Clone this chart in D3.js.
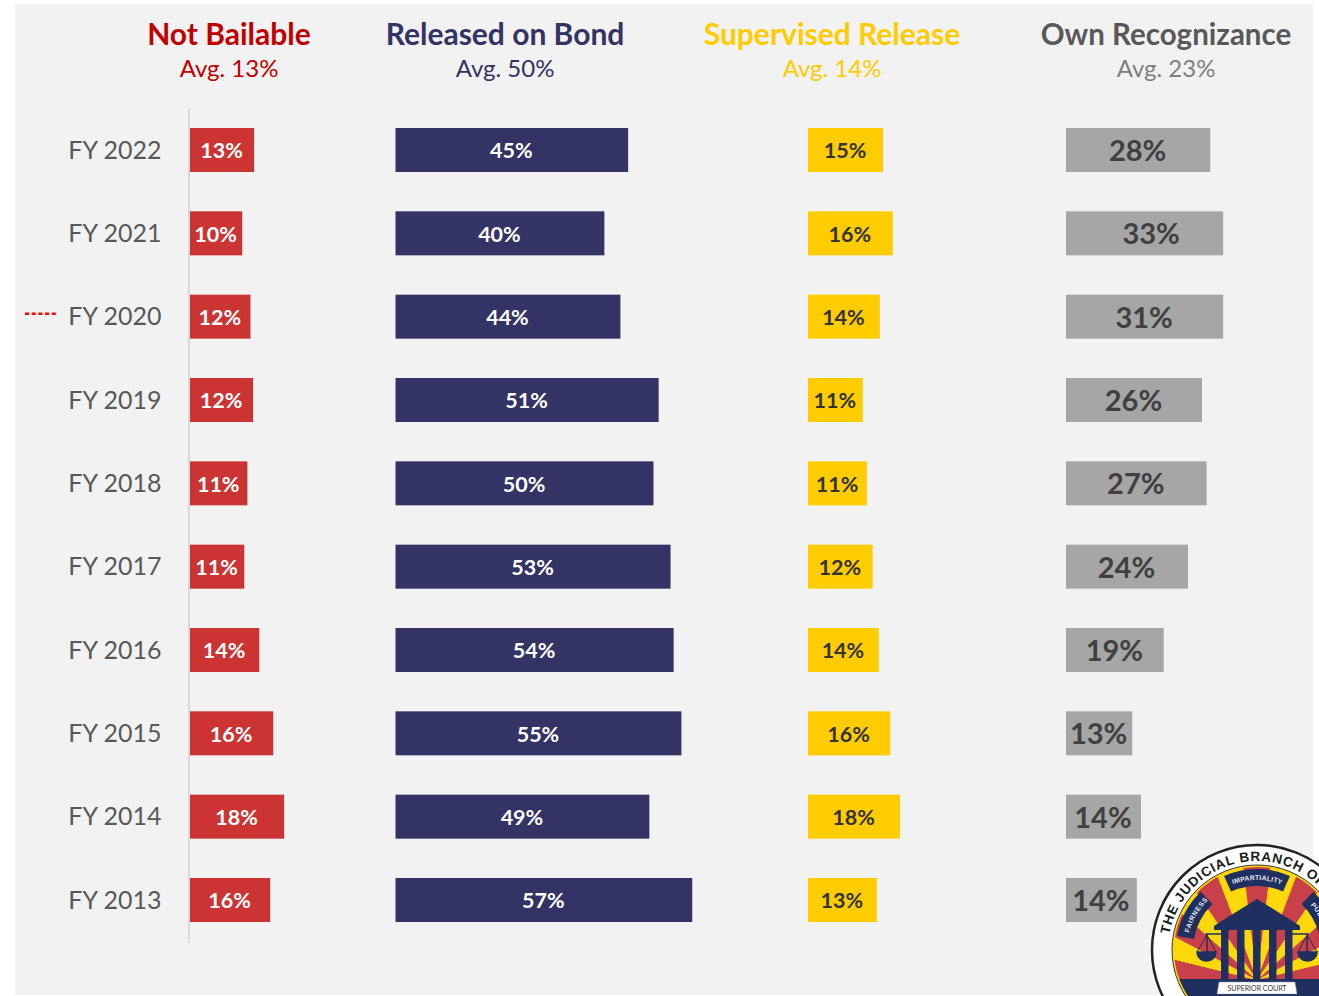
<!DOCTYPE html>
<html>
<head>
<meta charset="utf-8">
<script src="https://cdn.jsdelivr.net/npm/d3@7"></script>
<style>
  html, body { margin: 0; padding: 0; background: #fff; overflow: hidden; }
  svg { display: block; }
  text { font-family: Lato, "Open Sans", sans-serif; }
</style>
</head>
<body>
<svg id="chart" width="1319" height="996"></svg>
<script>
// values, bars are a little more exact than their printed labels
const years = ['FY 2022', 'FY 2021', 'FY 2020', 'FY 2019', 'FY 2018', 'FY 2017', 'FY 2016', 'FY 2015', 'FY 2014', 'FY 2013'];
const notBailable = [12.4, 10.1, 11.7, 12.2, 11.1, 10.5, 13.4, 16.1, 18.2, 15.5];
const notBailableLabels = ['13%', '10%', '12%', '12%', '11%', '11%', '14%', '16%', '18%', '16%'];
const onBond = [45.0, 40.4, 43.5, 50.9, 49.9, 53.2, 53.8, 55.3, 49.1, 57.4];
const onBondLabels = ['45%', '40%', '44%', '51%', '50%', '53%', '54%', '55%', '49%', '57%'];
const supervised = [14.5, 16.4, 13.9, 10.6, 11.4, 12.5, 13.7, 15.9, 17.8, 13.3];
const supervisedLabels = ['15%', '16%', '14%', '11%', '11%', '12%', '14%', '16%', '18%', '13%'];
const ownRecog = [27.9, 30.4, 30.4, 26.3, 27.2, 23.6, 18.9, 12.8, 14.5, 13.7];
const ownRecogLabels = ['28%', '33%', '31%', '26%', '27%', '24%', '19%', '13%', '14%', '14%'];

const panels = [
  {name: 'Not Bailable', avg: 'Avg. 13%', values: notBailable, labels: notBailableLabels, left: 190, head: 229, bar: '#cc3333', color: '#c00000', text: '#fff', size: 21.5, title: 30},
  {name: 'Released on Bond', avg: 'Avg. 50%', values: onBond, labels: onBondLabels, left: 395.5, head: 505, bar: '#333366', color: '#333366', text: '#fff', size: 21.5, title: 30},
  {name: 'Supervised Release', avg: 'Avg. 14%', values: supervised, labels: supervisedLabels, left: 808, head: 832, bar: '#ffcc00', color: '#ffcc00', text: '#333', size: 21.5, title: 30},
  {name: 'Own Recognizance', avg: 'Avg. 23%', values: ownRecog, labels: ownRecogLabels, left: 1066, head: 1166, bar: '#a6a6a6', color: '#595959', text: '#404040', size: 29, title: 29.5}
];

const svg = d3.select('#chart');

svg.append('rect')
    .attr('x', 15).attr('y', 4)
    .attr('width', 1298).attr('height', 991)
    .attr('fill', '#f2f2f2');

const x = d3.scaleLinear().domain([0, 100]).range([0, 517]);
const y = d3.scaleBand()
    .domain(years)
    .range([108, 942])
    .paddingInner(0.472)
    .paddingOuter(0.24);

// year axis
const yAxis = svg.append('g')
    .attr('transform', 'translate(188.5,0)')
    .call(d3.axisLeft(y).tickSize(0).tickPadding(27).tickSizeOuter(0));
yAxis.select('.domain').attr('stroke', '#d9d9d9').attr('stroke-width', 2);
yAxis.selectAll('text')
    .attr('fill', '#595959')
    .style('font-family', 'Lato, sans-serif')
    .style('font-size', '25px')
    .attr('dy', '0.34em');

// the red dotted marker next to FY 2020
svg.append('line')
    .attr('x1', 25).attr('x2', 57)
    .attr('y1', y('FY 2020') + y.bandwidth() / 2 - 3)
    .attr('y2', y('FY 2020') + y.bandwidth() / 2 - 3)
    .attr('stroke', '#ff0000')
    .attr('stroke-width', 2.5)
    .attr('stroke-dasharray', '4,2.7');

panels.forEach(function(p) {
  const g = svg.append('g');

  g.append('text')
      .attr('x', p.head).attr('y', 45)
      .attr('text-anchor', 'middle')
      .attr('font-size', p.title)
      .attr('font-weight', 700)
      .attr('fill', p.color)
      .text(p.name);

  g.append('text')
      .attr('x', p.head).attr('y', 77)
      .attr('text-anchor', 'middle')
      .attr('font-size', 24)
      .attr('fill', p.color === '#595959' ? '#7f7f7f' : p.color)
      .text(p.avg);

  g.selectAll('rect')
      .data(p.values)
      .enter().append('rect')
      .attr('x', p.left)
      .attr('y', function(d, i) { return y(years[i]); })
      .attr('width', function(d) { return x(d); })
      .attr('height', y.bandwidth())
      .attr('fill', p.bar);

  g.selectAll('text.val')
      .data(p.values)
      .enter().append('text')
      .attr('class', 'val')
      // the 33% label sits off centre in the original
      .attr('x', function(d, i) { return p.left + x(d) / 2 - 0.5 + (p.labels[i] === '33%' ? 7 : 0); })
      .attr('y', function(d, i) { return y(years[i]) + y.bandwidth() / 2; })
      .attr('dy', '0.38em')
      .attr('text-anchor', 'middle')
      .attr('font-size', p.size)
      .attr('font-weight', 700)
      .attr('fill', p.text)
      .text(function(d, i) { return p.labels[i]; });
});

// seal in the bottom right corner, partly off the page
const seal = svg.append('g').attr('transform', 'translate(1257,950)');
const navy = '#1f2f5f', gold = '#fcd80a', red = '#c8404a';

seal.append('circle').attr('r', 105).attr('fill', '#fff').attr('stroke', '#222').attr('stroke-width', 2.5);
seal.append('circle').attr('r', 85).attr('fill', gold).attr('stroke', '#333').attr('stroke-width', 1);

const defs = svg.append('defs');
defs.append('clipPath').attr('id', 'inner').append('circle').attr('r', 83);

const rays = seal.append('g').attr('clip-path', 'url(#inner)');
const rayArc = d3.arc().innerRadius(0).outerRadius(130);
rays.selectAll('path')
    .data(d3.range(13))
    .enter().append('path')
    .attr('transform', 'translate(0,30)')
    .attr('fill', function(d) { return d % 2 === 0 ? red : gold; })
    .attr('d', function(d) {
      const a = Math.PI / 13;
      return rayArc({startAngle: -Math.PI / 2 + d * a, endAngle: -Math.PI / 2 + (d + 1) * a});
    });
rays.append('rect').attr('x', -90).attr('y', 29).attr('width', 180).attr('height', 70).attr('fill', navy);

// ring lettering and banners follow arcs
function arcPath(r, a0, a1) {
  const p = d3.path();
  p.arc(0, 0, r, a0 * Math.PI / 180 - Math.PI / 2, a1 * Math.PI / 180 - Math.PI / 2);
  return p.toString();
}
function ringText(id, r, a0, a1, txt, size, fill, spacing) {
  defs.append('path').attr('id', id).attr('d', arcPath(r, a0, a1));
  seal.append('text')
      .attr('font-size', size)
      .attr('font-weight', 700)
      .attr('fill', fill)
      .attr('letter-spacing', spacing)
      .style('font-family', 'Liberation Sans, sans-serif')
      .append('textPath')
      .attr('href', '#' + id)
      .text(txt);
}
const banner = d3.arc().innerRadius(64).outerRadius(81);
[[-24, 24], [-80, -44], [44, 80]].forEach(function(b) {
  seal.append('path')
      .attr('fill', navy)
      .attr('d', banner({startAngle: b[0] * Math.PI / 180, endAngle: b[1] * Math.PI / 180}));
});
ringText('ring', 89, -80, 60, 'THE JUDICIAL BRANCH OF', 13.5, '#1a1a1a', 0.8);
ringText('imp', 70, -20, 40, 'IMPARTIALITY', 6.8, '#e8e8f0', 0.2);
ringText('fair', 70, -76, -20, 'FAIRNESS', 6.8, '#e8e8f0', 0.6);
ringText('pub', 70, 50, 100, 'PUBLIC', 6.8, '#e8e8f0', 0.4);

// courthouse
const house = seal.append('g').attr('fill', navy);
house.append('path').attr('d', 'M0,-51 L37,-28 L43,-24 L43,-20 L-43,-20 L-43,-24 L-37,-28 Z');
house.selectAll('rect')
    .data([-36, -20, -4, 12, 28])
    .enter().append('rect')
    .attr('x', function(d) { return d; })
    .attr('y', -20).attr('width', 7.5).attr('height', 50);

// balance scales on both sides
[-1, 1].forEach(function(s) {
  const t = seal.append('g').attr('transform', 'scale(' + s + ',1)').attr('stroke', navy).attr('fill', 'none').attr('stroke-width', 1.5);
  t.append('path').attr('d', 'M34,-16 H52 M50,-16 V2');
  t.append('path').attr('d', 'M50,-15 L41,2 M50,-15 L60,2').attr('stroke-width', 1);
  t.append('path').attr('d', 'M41,2 H60 A9.5,9 0 0 1 41,2 Z').attr('fill', navy);
});

// pedestal
seal.append('path').attr('d', 'M-38,32 H38 L40,44 H-40 Z').attr('fill', '#fff').attr('stroke', '#8890a8').attr('stroke-width', 0.5);
seal.append('text')
    .attr('x', 0).attr('y', 41)
    .attr('text-anchor', 'middle')
    .attr('font-size', 7)
    .attr('fill', '#333')
    .text('SUPERIOR COURT');
</script>
</body>
</html>
